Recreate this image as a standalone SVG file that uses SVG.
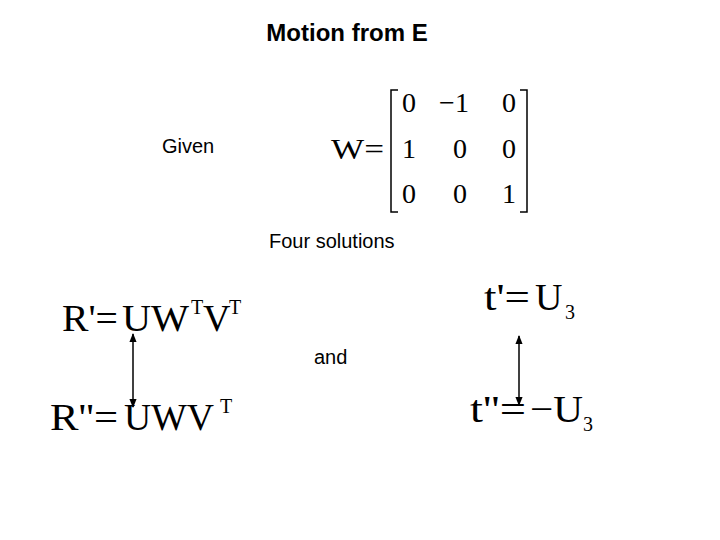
<svg xmlns="http://www.w3.org/2000/svg" width="720" height="540" viewBox="0 0 720 540">
<style>
.s{font-family:"Liberation Sans",Arial,sans-serif;fill:#000}
.m{font-family:"Liberation Serif","Times New Roman",serif;fill:#000}
.c{stroke:#000;stroke-width:1.5;fill:none}
</style>
<defs><marker id="a" viewBox="0 0 10 10" refX="9" refY="5" markerWidth="6" markerHeight="6" orient="auto-start-reverse"><path d="M0,1 L10,5 L0,9 z" fill="#000"/></marker></defs>
<rect width="720" height="540" fill="#fff"/>
<text class="s" x="347" y="41" font-size="24" font-weight="bold" text-anchor="middle">Motion from E</text>
<text class="s" x="162" y="153" font-size="20">Given</text>
<g id="W">
<text class="m" x="331" y="159" font-size="30" textLength="53" lengthAdjust="spacingAndGlyphs">W=</text>
<path class="c" d="M398,90 H391 V212 H398 M520,90 H527 V212 H520" stroke-width="1.2"/>
<text class="m" font-size="28" text-anchor="middle"><tspan x="409" y="112">0</tspan><tspan x="454" y="112">−1</tspan><tspan x="509" y="112">0</tspan><tspan x="409" y="158">1</tspan><tspan x="460" y="158">0</tspan><tspan x="509" y="158">0</tspan><tspan x="409" y="203">0</tspan><tspan x="460" y="203">0</tspan><tspan x="509" y="203">1</tspan></text>
</g>
<text class="s" x="269" y="248" font-size="20">Four solutions</text>
<g id="R1"><text class="m" font-size="38"><tspan x="62" y="331" textLength="56" lengthAdjust="spacingAndGlyphs">R'=</tspan><tspan x="122" y="331" textLength="67" lengthAdjust="spacingAndGlyphs">UW</tspan><tspan x="191" y="314" font-size="20">T</tspan><tspan x="203" y="331">V</tspan><tspan x="229" y="314" font-size="20">T</tspan></text></g>
<g id="R2"><text class="m" font-size="38"><tspan x="50" y="430" textLength="68" lengthAdjust="spacingAndGlyphs">R''=</tspan><tspan x="124" y="430" textLength="90" lengthAdjust="spacingAndGlyphs">UWV</tspan><tspan x="220" y="413" font-size="20">T</tspan></text></g>
<g id="T1"><text class="m" font-size="38"><tspan x="484" y="310" textLength="46" lengthAdjust="spacingAndGlyphs">t'=</tspan><tspan x="535" y="310">U</tspan><tspan x="565" y="319" font-size="20">3</tspan></text></g>
<g id="T2"><text class="m" font-size="38"><tspan x="470" y="422" textLength="56" lengthAdjust="spacingAndGlyphs">t''=</tspan><tspan x="530" y="422" textLength="53" lengthAdjust="spacingAndGlyphs">−U</tspan><tspan x="583" y="431" font-size="20">3</tspan></text></g>
<text class="s" x="314" y="364" font-size="20">and</text>
<g id="connectors">
<line class="c" x1="133" y1="334" x2="133" y2="407" marker-start="url(#a)" marker-end="url(#a)"/>
<line class="c" x1="519" y1="336" x2="519" y2="405" marker-start="url(#a)" marker-end="url(#a)"/>
</g>
</svg>
